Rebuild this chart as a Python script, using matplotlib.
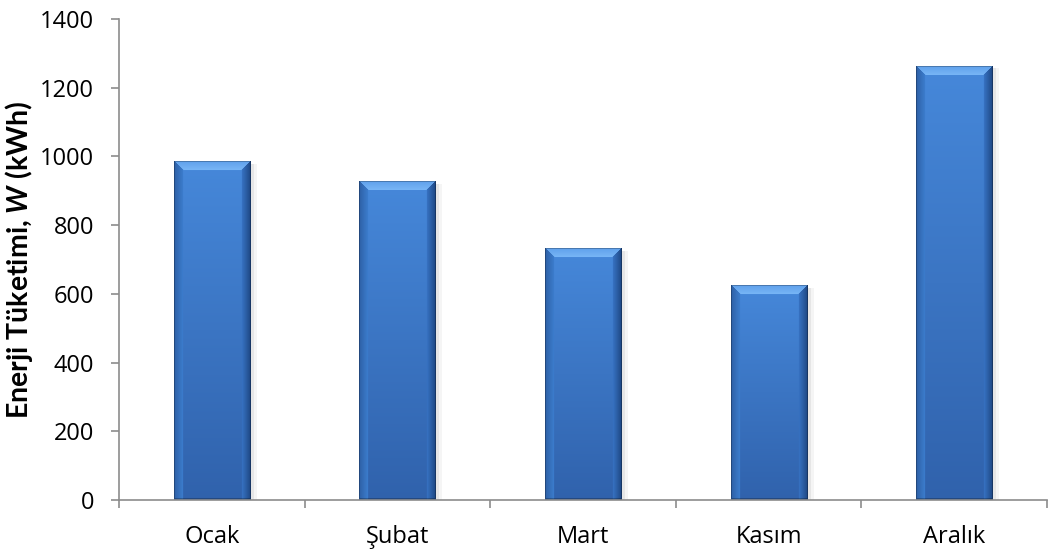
import numpy as np
import matplotlib
matplotlib.use("Agg")
import matplotlib.pyplot as plt
from matplotlib.patches import Rectangle

# monthly energy consumption
months = ["Ocak", "Şubat", "Mart", "Kasım", "Aralık"]
consumption = [984, 928, 731, 623, 1263]

plt.rcParams["font.family"] = ["Open Sans", "DejaVu Sans"]
plt.rcParams["mathtext.fontset"] = "custom"
plt.rcParams["mathtext.bfit"] = "Lato:italic:bold"
plt.rcParams["mathtext.rm"] = "Lato"

AXIS_GREY = "#8c8c8c"
DPI = 100


def lerp(c0, c1, t):
    c0 = np.array(c0, float) / 255
    c1 = np.array(c1, float) / 255
    t = np.asarray(t)[..., None]
    return c0 + (c1 - c0) * t


def bevel_image(w, h, b=9):
    # pixel grid, row 0 is the top of the bar
    x = np.arange(w) + 0.5
    y = np.arange(h) + 0.5
    X, Y = np.meshgrid(x, y)
    dl, dr, dt, db = X, w - X, Y, h - Y

    img = lerp((70, 136, 218), (48, 98, 172), Y / max(h, 1))

    # side bevels
    left = (dl < b) & (dl <= dt)
    img[left] = lerp((45, 95, 165), (60, 125, 205), dl[left] / b)
    right = (dr < b) & (dr <= dt)
    img[right] = lerp((30, 70, 130), (55, 115, 195), dr[right] / b)

    # top bevel, lighter
    top = (dt < b) & (dt < dl) & (dt < dr)
    img[top] = lerp((95, 160, 235), (120, 182, 246), dt[top] / b)

    # thin dark rim
    rim = (dl < 1.5) | (dr < 1.5) | (dt < 1.5) | (db < 2)
    img[rim] = img[rim] * 0.75
    return np.clip(img, 0, 1)


fig = plt.figure(figsize=(1051 / DPI, 552 / DPI), dpi=DPI)
ax = fig.add_axes([119 / 1051, 1 - 500 / 552, (1047 - 119) / 1051, (500 - 19) / 552])

xpos = np.arange(len(months))
width = 0.41
ax.set_xlim(-0.5, len(months) - 0.5)
ax.set_ylim(0, 1400)

bars = ax.bar(xpos, consumption, width=width, color="none", zorder=1)

# shaded bars with a soft drop shadow
to_px = ax.transData
for rect, v in zip(bars, consumption):
    x0 = rect.get_x()
    x1 = x0 + rect.get_width()
    (px0, py0), (px1, py1) = to_px.transform([(x0, 0), (x1, v)])
    w_px = max(int(round(px1 - px0)), 2)
    h_px = max(int(round(py1 - py0)), 2)

    dx = 3 * (x1 - x0) / w_px
    dy = 3 * 1400 / ax.bbox.height
    for k, a in enumerate([0.09, 0.06, 0.04]):
        sh = Rectangle((x0 + dx * (k + 0.3), -dy), x1 - x0, v + dy * 0.2,
                       facecolor="black", alpha=a, linewidth=0, zorder=1.5)
        ax.add_patch(sh)

    ax.imshow(bevel_image(w_px, h_px), extent=(x0, x1, 0, v), origin="upper",
              aspect="auto", interpolation="bilinear", zorder=2)

ax.set_xlim(-0.5, len(months) - 0.5)
ax.set_ylim(0, 1400)

ax.set_yticks(np.arange(0, 1401, 200))
ax.set_xticks(xpos)
ax.set_xticklabels(months)
ax.set_xticks(np.arange(-0.5, len(months), 1), minor=True)

ax.tick_params(axis="y", direction="out", length=6, width=1.2, color=AXIS_GREY,
               labelsize=17, pad=12)
ax.tick_params(axis="x", which="major", length=0, labelsize=17, pad=18)
ax.tick_params(axis="x", which="minor", direction="out", length=6, width=1.2,
               color=AXIS_GREY)

for side in ["top", "right"]:
    ax.spines[side].set_visible(False)
for side in ["left", "bottom"]:
    ax.spines[side].set_color(AXIS_GREY)
    ax.spines[side].set_linewidth(1.2)
    ax.spines[side].set_zorder(3)

ax.set_ylabel(r"Enerji Tüketimi, $\mathbfit{W}$ (kWh)", fontsize=20.5,
              fontweight="bold", family=["Lato", "DejaVu Sans"],
              va="center")
ax.yaxis.set_label_coords(-100 / 928, 0.5)

fig.savefig("out.png", dpi=DPI)
